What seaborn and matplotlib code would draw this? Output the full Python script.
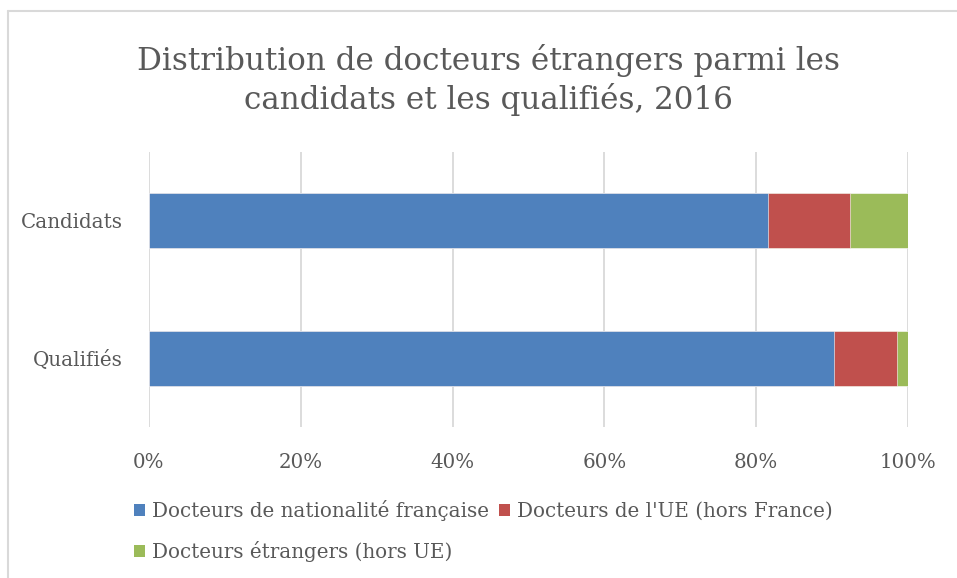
import pandas as pd
import numpy as np
import matplotlib.pyplot as plt
import seaborn as sns
from matplotlib.patches import Patch
from matplotlib.lines import Line2D

# Data (shares in %)
CATEGORIES = ['Candidats', 'Qualifiés']
SERIES = ['Docteurs de nationalité française',
          "Docteurs de l'UE (hors France)",
          'Docteurs étrangers (hors UE)']
FRANCAIS = [81.6, 90.3]
UE = [10.7, 8.2]
HORS_UE = [7.7, 1.5]
TICKS = [0, 20, 40, 60, 80, 100]
TICK_LABELS = ['0%', '20%', '40%', '60%', '80%', '100%']

COLORS = ['#4F81BD', '#C0504D', '#9BBB59']
TEXT_COLOR = '#595959'
GRID_COLOR = '#D9D9D9'
FS = 14.3

sns.set_theme(style='white')
plt.rcParams['font.family'] = ['DejaVu Serif', 'Liberation Serif']

df = pd.DataFrame({'cat': CATEGORIES, 'fr': FRANCAIS, 'ue': UE, 'hue': HORS_UE})
df['c1'] = df['fr']
df['c2'] = df['fr'] + df['ue']
df['c3'] = df['c2'] + df['hue']

fig = plt.figure(figsize=(9.57, 5.78), dpi=100)
ax = fig.add_axes([149 / 957, 1 - 427 / 578, (908 - 149) / 957, (427 - 152) / 578])

# stacked bars: draw cumulative totals back to front
for col, color in zip(['c3', 'c2', 'c1'], COLORS[::-1]):
    sns.barplot(data=df, x=col, y='cat', order=CATEGORIES, color=color,
                width=0.4, orient='h', ax=ax, saturation=1,
                edgecolor='white', linewidth=0.4)

ax.set_xlim(0, 100)
ax.set_ylim(1.5, -0.5)
ax.set_xticks(TICKS)
ax.set_xticklabels(TICK_LABELS)
ax.set_xlabel('')
ax.set_ylabel('')
for s in ax.spines.values():
    s.set_visible(False)
ax.set_axisbelow(True)
ax.xaxis.grid(True, color=GRID_COLOR, linewidth=1.3)
ax.tick_params(axis='x', length=0, pad=19, labelsize=FS, labelcolor=TEXT_COLOR)
ax.tick_params(axis='y', length=0, pad=19, labelsize=FS, labelcolor=TEXT_COLOR)

fig.text(488 / 957, 1 - 80 / 578,
         'Distribution de docteurs étrangers parmi les\ncandidats et les qualifiés, 2016',
         ha='center', va='center', fontsize=22.3, color=TEXT_COLOR, linespacing=1.2)

# legend fills column by column: first column holds series 1 and 3
order = [0, 2, 1]
handles = [Patch(facecolor=COLORS[i], edgecolor='none') for i in order]
labels = [SERIES[i] for i in order]
leg = fig.legend(handles, labels, ncol=2, loc='upper left',
                 bbox_to_anchor=(134 / 957, 1 - 500 / 578), frameon=False,
                 fontsize=FS, handlelength=0.55, handleheight=0.55,
                 handletextpad=0.35, columnspacing=0.5, labelspacing=1.0,
                 borderaxespad=0, borderpad=0)
for t in leg.get_texts():
    t.set_color(TEXT_COLOR)

# chart area frame (top and left edges visible)
fig.add_artist(Line2D([8 / 957, 8 / 957], [0, 1 - 11 / 578], color=GRID_COLOR,
                      linewidth=1.5, transform=fig.transFigure))
fig.add_artist(Line2D([8 / 957, 1], [1 - 11 / 578, 1 - 11 / 578], color=GRID_COLOR,
                      linewidth=1.5, transform=fig.transFigure))

fig.savefig('out.png', dpi=100)
